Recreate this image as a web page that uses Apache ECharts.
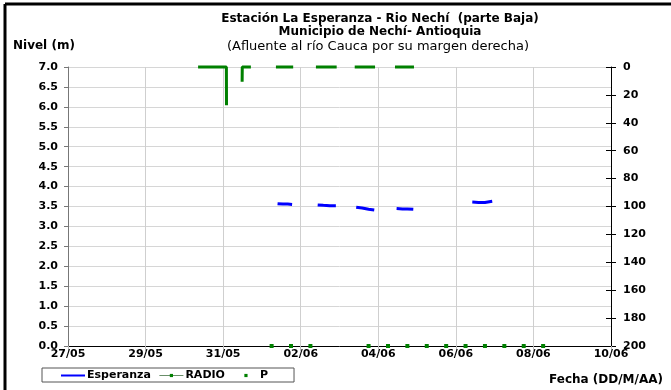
<!DOCTYPE html>
<html>
<head>
<meta charset="utf-8">
<script src="https://cdn.jsdelivr.net/npm/echarts@6/dist/echarts.min.js"></script>
<style>
  html, body { margin: 0; padding: 0; background: #fff; }
  #chart { width: 671px; height: 390px; }
</style>
</head>
<body>
<div id="chart"></div>
<script>
// etiquetas del eje de fechas (cada 2 dias)
var fechaTicks = ['27/05', '29/05', '31/05', '02/06', '04/06', '06/06', '08/06', '10/06'];

// nivel Esperanza (m) - tramos diurnos, '-' corta la linea
var esperanza = [
  ['2013-06-01 09:40', 3.57], ['2013-06-01 13:00', 3.56], ['2013-06-01 16:00', 3.56], ['2013-06-01 18:40', 3.55],
  ['2013-06-02 00:00', '-'],
  ['2013-06-02 10:30', 3.54], ['2013-06-02 14:00', 3.53], ['2013-06-02 18:00', 3.52], ['2013-06-02 21:45', 3.52],
  ['2013-06-03 00:00', '-'],
  ['2013-06-03 10:20', 3.48], ['2013-06-03 14:00', 3.46], ['2013-06-03 18:00', 3.43], ['2013-06-03 21:30', 3.41],
  ['2013-06-04 00:00', '-'],
  ['2013-06-04 11:20', 3.45], ['2013-06-04 15:00', 3.44], ['2013-06-04 18:00', 3.44], ['2013-06-04 21:40', 3.43],
  ['2013-06-05 00:00', '-'],
  ['2013-06-06 10:10', 3.61], ['2013-06-06 14:00', 3.60], ['2013-06-06 18:00', 3.60], ['2013-06-06 22:30', 3.63]
];

// reportes de RADIO (m)
var radio = [
  ['2013-06-01 06:00', 0], ['2013-06-01 18:00', 0], ['2013-06-02 06:00', 0],
  ['2013-06-03 18:00', 0], ['2013-06-04 06:00', 0], ['2013-06-04 18:00', 0],
  ['2013-06-05 06:00', 0], ['2013-06-05 18:00', 0], ['2013-06-06 06:00', 0],
  ['2013-06-06 18:00', 0], ['2013-06-07 06:00', 0], ['2013-06-07 18:00', 0],
  ['2013-06-08 06:00', 0]
];

// precipitacion P (mm) - eje derecho invertido
var precip = [
  ['2013-05-30 08:30', 0], ['2013-05-31 02:00', 0], ['2013-05-31 02:05', 27.5],
  ['2013-05-31 06:00', '-'],
  ['2013-05-31 11:45', 10.5], ['2013-05-31 11:50', 0], ['2013-05-31 17:10', 0],
  ['2013-05-31 23:00', '-'],
  ['2013-06-01 08:40', 0], ['2013-06-01 19:20', 0],
  ['2013-06-02 00:00', '-'],
  ['2013-06-02 09:25', 0], ['2013-06-02 22:15', 0],
  ['2013-06-03 00:00', '-'],
  ['2013-06-03 09:25', 0], ['2013-06-03 22:00', 0],
  ['2013-06-04 00:00', '-'],
  ['2013-06-04 10:20', 0], ['2013-06-04 22:05', 0]
];

var DAY = 86400000;
function t(s) {
  var p = s.split(/[- :]/);
  return Date.UTC(+p[0], +p[1] - 1, +p[2], +p[3], +p[4]);
}
function conv(arr) {
  return arr.map(function (d) { return [t(d[0]), d[1]]; });
}
var x0 = Date.UTC(2013, 4, 27);

var font = 'DejaVu Sans';
var chart = echarts.init(document.getElementById('chart'));

var option = {
  animation: false,
  title: [
    { text: 'Estación La Esperanza - Rio Nechí  (parte Baja)', left: 375, top: 8, textAlign: 'center',
      textStyle: { fontFamily: font, fontSize: 12, fontWeight: 'bold', color: '#000' } },
    { text: 'Municipio de Nechí- Antioquia', left: 375, top: 21, textAlign: 'center',
      textStyle: { fontFamily: font, fontSize: 12, fontWeight: 'bold', color: '#000' } },
    { text: '(Afluente al río Cauca por su margen derecha)', left: 373, top: 35, textAlign: 'center',
      textStyle: { fontFamily: font, fontSize: 13, fontWeight: 'normal', color: '#000' } },
    { text: 'Nivel (m)', left: 8, top: 35,
      textStyle: { fontFamily: font, fontSize: 12, fontWeight: 'bold', color: '#000' } },
    { text: 'Fecha (DD/M/AA)', right: 3, top: 369,
      textStyle: { fontFamily: font, fontSize: 12, fontWeight: 'bold', color: '#000' } }
  ],
  legend: {
    left: 42, top: 368,
    padding: [2, 26, 1, 18],
    itemGap: 8, itemWidth: 24, itemHeight: 4,
    borderColor: '#555', borderWidth: 1,
    textStyle: { fontFamily: font, fontSize: 11, fontWeight: 'bold', color: '#000', padding: [0, 0, 0, -3] },
    data: [
      { name: 'Esperanza', itemStyle: { opacity: 0 } },
      { name: 'RADIO', lineStyle: { color: '#6a8f6a', width: 1, opacity: 1 } },
      { name: 'P', lineStyle: { opacity: 0 } }
    ]
  },
  grid: { left: 68, right: 60, top: 67, bottom: 44 },
  xAxis: {
    type: 'value',
    min: x0, max: x0 + 14 * DAY, interval: 2 * DAY,
    axisLine: { lineStyle: { color: '#000', width: 1 } },
    axisTick: { show: true, length: 5, lineStyle: { color: '#bbb' } },
    splitLine: { show: true, lineStyle: { color: '#cfcfcf', width: 1 } },
    axisLabel: {
      fontFamily: font, fontSize: 11, fontWeight: 'bold', color: '#000', margin: 3,
      formatter: function (v) { return fechaTicks[Math.round((v - x0) / (2 * DAY))]; }
    }
  },
  yAxis: [
    {
      type: 'value', min: 0, max: 7, interval: 0.5,
      axisLine: { show: true, lineStyle: { color: '#777' } },
      axisTick: { show: true, length: 4, lineStyle: { color: '#777' } },
      splitLine: { show: true, lineStyle: { color: '#d6d6d6' } },
      axisLabel: {
        fontFamily: font, fontSize: 11, fontWeight: 'bold', color: '#000', margin: 10,
        formatter: function (v) { return v.toFixed(1); }
      }
    },
    {
      type: 'value', position: 'right', inverse: true, min: 0, max: 200, interval: 20,
      axisLine: { show: true, lineStyle: { color: '#000' } },
      axisTick: { show: true, length: 5, lineStyle: { color: '#000' } },
      splitLine: { show: false },
      axisLabel: { fontFamily: font, fontSize: 11, fontWeight: 'bold', color: '#000', margin: 12 }
    },
    {
      // ticks hacia adentro del eje derecho
      type: 'value', position: 'right', inverse: true, min: 0, max: 200, interval: 20,
      axisLine: { show: false },
      axisTick: { show: true, inside: true, length: 5, lineStyle: { color: '#000' } },
      splitLine: { show: false },
      axisLabel: { show: false }
    }
  ],
  series: [
    {
      name: 'Esperanza', type: 'line', yAxisIndex: 0,
      data: conv(esperanza),
      symbol: 'circle', symbolSize: 0, showSymbol: false,
      clip: false,
      lineStyle: { color: '#0000ff', width: 3 },
      itemStyle: { color: '#0000ff' }
    },
    {
      name: 'RADIO', type: 'line', yAxisIndex: 0,
      data: conv(radio),
      symbol: 'rect', symbolSize: 4, showSymbol: true,
      clip: false, z: 3,
      lineStyle: { opacity: 0 },
      itemStyle: { color: '#008000' }
    },
    {
      name: 'P', type: 'line', yAxisIndex: 1,
      data: conv(precip),
      symbol: 'rect', symbolSize: 3, showSymbol: false,
      clip: false,
      lineStyle: { color: '#008000', width: 3 },
      itemStyle: { color: '#008000' }
    }
  ],
  graphic: [
    { type: 'line', shape: { x1: 5, y1: 4, x2: 671, y2: 4 }, style: { stroke: '#000', lineWidth: 3 } },
    { type: 'line', shape: { x1: 5, y1: 4, x2: 5, y2: 390 }, style: { stroke: '#000', lineWidth: 3 } }
  ]
};

chart.setOption(option);
</script>
</body>
</html>
